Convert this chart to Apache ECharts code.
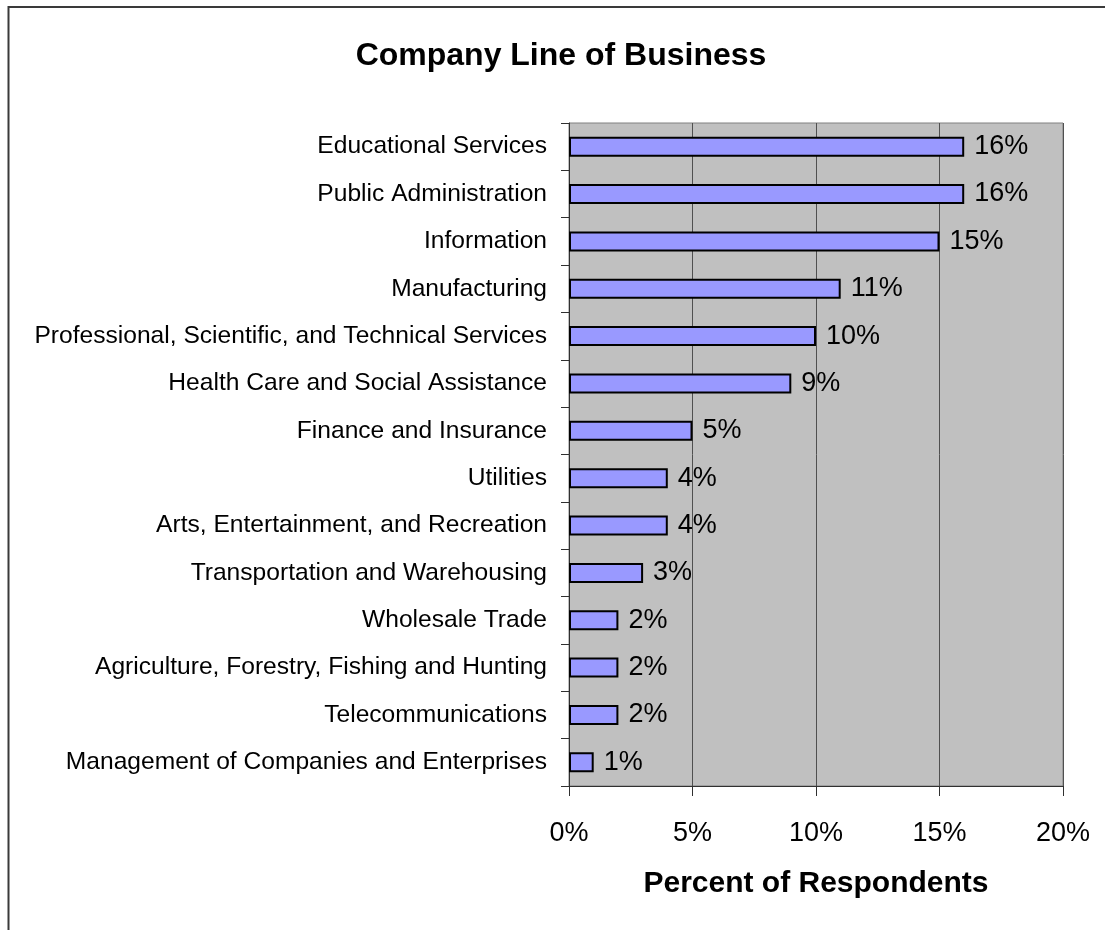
<!DOCTYPE html>
<html>
<head>
<meta charset="utf-8">
<title>Company Line of Business</title>
<script src="https://cdn.jsdelivr.net/npm/echarts@6/dist/echarts.min.js"></script>
<style>
  html, body { margin: 0; padding: 0; background: #ffffff; }
  #chart { width: 1105px; height: 930px; }
</style>
</head>
<body>
<div id="chart"></div>
<script>
// Lines of business, listed top to bottom
const categories = [
  'Educational Services',
  'Public Administration',
  'Information',
  'Manufacturing',
  'Professional, Scientific, and Technical Services',
  'Health Care and Social Assistance',
  'Finance and Insurance',
  'Utilities',
  'Arts, Entertainment, and Recreation',
  'Transportation and Warehousing',
  'Wholesale Trade',
  'Agriculture, Forestry, Fishing and Hunting',
  'Telecommunications',
  'Management of Companies and Enterprises'
];

// Percent of respondents for each line of business
const percents = [16, 16, 15, 11, 10, 9, 5, 4, 4, 3, 2, 2, 2, 1];

// Value axis ticks (percent)
const axisMin = 0;
const axisMax = 20;
const axisStep = 5;

const FONT = 'Arial, "Liberation Sans", sans-serif';

const chart = echarts.init(document.getElementById('chart'), null, { renderer: 'canvas' });

chart.setOption({
  animation: false,
  backgroundColor: '#ffffff',
  title: {
    text: 'Company Line of Business',
    left: 556,
    textAlign: 'center',
    top: 35,
    textStyle: {
      fontFamily: FONT,
      fontSize: 32,
      fontWeight: 'bold',
      color: '#000000'
    }
  },
  graphic: [
    {
      type: 'rect',
      silent: true,
      z: 100,
      shape: { x: 8.5, y: 7, width: 1200, height: 1000 },
      style: { fill: 'none', stroke: '#3a3a3a', lineWidth: 2 }
    }
  ],
  grid: {
    left: 569,
    right: 42,
    top: 123,
    bottom: 144,
    show: true,
    backgroundColor: '#C0C0C0',
    borderColor: '#808080',
    borderWidth: 1
  },
  xAxis: {
    type: 'value',
    min: axisMin,
    max: axisMax,
    interval: axisStep,
    name: 'Percent of Respondents',
    nameLocation: 'middle',
    nameGap: 83,
    nameTextStyle: {
      fontFamily: FONT,
      fontSize: 30,
      fontWeight: 'bold',
      color: '#000000'
    },
    axisLine: { show: true, lineStyle: { color: '#303030', width: 1 } },
    axisTick: { show: true, length: 10, lineStyle: { color: '#303030', width: 1 } },
    axisLabel: {
      formatter: '{value}%',
      margin: 34,
      fontFamily: FONT,
      fontSize: 27,
      color: '#000000'
    },
    splitLine: { show: true, lineStyle: { color: '#505050', width: 1 } }
  },
  yAxis: {
    type: 'category',
    data: categories,
    inverse: true,
    axisLine: { show: true, lineStyle: { color: '#303030', width: 1 } },
    axisTick: { show: true, length: 8, alignWithLabel: false, lineStyle: { color: '#303030', width: 1 } },
    axisLabel: {
      margin: 22,
      fontFamily: FONT,
      fontSize: 24.6,
      color: '#000000'
    },
    splitLine: { show: false }
  },
  series: [
    {
      type: 'bar',
      data: percents,
      barWidth: 20,
      itemStyle: {
        color: '#9999FF',
        borderColor: '#000000',
        borderWidth: 2
      },
      label: {
        show: true,
        position: 'right',
        distance: 10,
        formatter: '{c}%',
        fontFamily: FONT,
        fontSize: 27,
        color: '#000000'
      }
    }
  ]
});
</script>
</body>
</html>
